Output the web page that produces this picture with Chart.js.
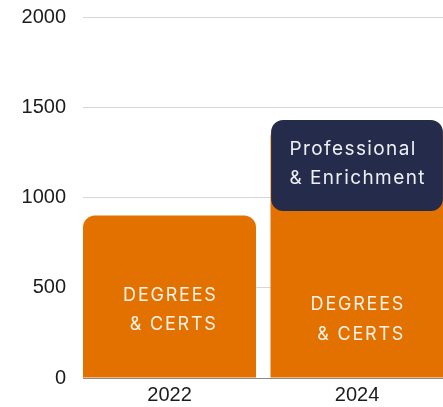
<!DOCTYPE html>
<html>
<head>
<meta charset="utf-8">
<script src="https://cdn.jsdelivr.net/npm/chart.js@4.4.1/dist/chart.umd.min.js"></script>
<style>
  html, body { margin: 0; padding: 0; background: #ffffff; overflow: hidden; }
  #wrap { width: 443px; height: 407px; position: relative; }
</style>
</head>
<body>
<div id="wrap"><canvas id="c" width="443" height="407"></canvas></div>
<script>
// ---- data ----
const years = [2022, 2024];
const degreesCerts = [900, 1400];          // orange bars
const profEnrichLow = [925];               // navy floating bar (2024 only)
const profEnrichHigh = [1430];
const profYears = [2024];
const yTicks = [0, 500, 1000, 1500, 2000];

const degreesLabel = ['DEGREES', '& CERTS'];
const profLabel = ['Professional', '& Enrichment'];

const ORANGE = '#e37100';
const NAVY = '#252c4b';

// text drawn inside bars, anchored to bar elements
const barText = {
  id: 'barText',
  afterDatasetsDraw(chart, args, opts) {
    const ctx = chart.ctx;
    const yScale = chart.scales.y;
    opts.items.forEach(it => {
      const el = chart.getDatasetMeta(it.dataset).data[it.index];
      if (!el) return;
      ctx.save();
      ctx.font = it.font;
      ctx.fillStyle = it.color;
      if ('letterSpacing' in ctx) ctx.letterSpacing = it.spacing + 'px';
      ctx.textBaseline = 'alphabetic';
      ctx.textAlign = 'left';
      const widths = it.lines.map(l => ctx.measureText(l).width - it.spacing);
      const maxW = Math.max(...widths);
      const x0 = el.x - maxW / 2;
      let y = yScale.getPixelForValue(it.at);
      it.lines.forEach((line, i) => {
        const x = it.align === 'left' ? x0 : x0 + maxW - widths[i];
        ctx.fillText(line, x, y);
        y += it.lineHeight;
      });
      ctx.restore();
    });
  }
};

const ctx = document.getElementById('c').getContext('2d');
new Chart(ctx, {
  type: 'bar',
  data: {
    datasets: [
      {
        label: 'Degrees & Certs',
        data: years.map((x, i) => ({ x: x, y: degreesCerts[i] })),
        backgroundColor: ORANGE,
        borderWidth: 0,
        borderRadius: { topLeft: 12, topRight: 12, bottomLeft: 0, bottomRight: 0 },
        borderSkipped: 'start',
        grouped: false,
        barPercentage: 0.9227,
        categoryPercentage: 1,
        order: 2
      },
      {
        label: 'Professional & Enrichment',
        data: profYears.map((x, i) => ({ x: x, y: [profEnrichLow[i], profEnrichHigh[i]] })),
        backgroundColor: NAVY,
        borderWidth: 0,
        borderRadius: 12,
        borderSkipped: false,
        grouped: false,
        barPercentage: 0.916,
        categoryPercentage: 1,
        order: 1
      }
    ]
  },
  options: {
    responsive: false,
    animation: false,
    devicePixelRatio: 1,
    layout: { padding: { top: 17, right: 0, bottom: 0, left: 0 } },
    plugins: {
      legend: { display: false },
      tooltip: { enabled: false },
      barText: {
        items: [
          { dataset: 0, index: 0, lines: degreesLabel, align: 'right', at: 429, lineHeight: 29.5,
            font: '18px Inter', spacing: 1.8, color: '#fbf3ea' },
          { dataset: 0, index: 1, lines: degreesLabel, align: 'right', at: 374, lineHeight: 30,
            font: '18px Inter', spacing: 1.8, color: '#fbf3ea' },
          { dataset: 1, index: 0, lines: profLabel, align: 'left', at: 1238, lineHeight: 29,
            font: '19px Inter', spacing: 1.4, color: '#eef0f5' }
        ]
      }
    },
    scales: {
      x: {
        type: 'linear',
        offset: false,
        min: 2021.0773,
        max: 2024.9173,
        grid: { display: false, drawTicks: false, offset: false },
        border: { display: true, color: '#8a8a8a', width: 1 },
        afterBuildTicks: (s) => { s.ticks = years.map(v => ({ value: v })); },
        afterFit: (s) => { s.height = 29; s.paddingLeft = 0; s.paddingRight = 0; },
        ticks: {
          padding: 5,
          color: '#1c1c1c',
          font: { family: 'Liberation Sans', size: 20 },
          callback: (v) => String(v),
          maxRotation: 0,
          autoSkip: false
        }
      },
      y: {
        min: 0,
        max: 2000,
        afterBuildTicks: (s) => { s.ticks = yTicks.map(v => ({ value: v })); },
        afterFit: (s) => { s.width = 83; s.paddingTop = 0; s.paddingBottom = 0; },
        grid: { color: '#d6d6d6', lineWidth: 1, drawTicks: false },
        border: { display: false },
        ticks: {
          padding: 17,
          color: '#1c1c1c',
          font: { family: 'Liberation Sans', size: 20 },
          callback: (v) => String(v)
        }
      }
    }
  },
  plugins: [barText]
});
</script>
</body>
</html>
